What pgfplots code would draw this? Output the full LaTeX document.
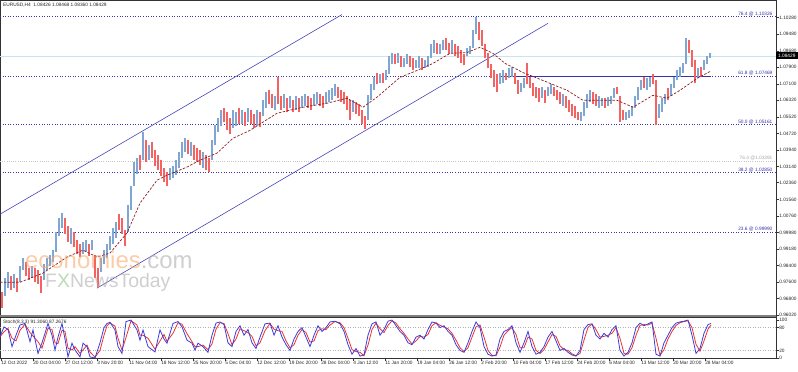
\documentclass[border=0pt]{standalone}
\usepackage{fontspec}
\setmainfont{Liberation Sans}
\usepackage{pgfplots}
\usepackage{pgfplotstable}
\pgfplotsset{compat=1.18}
\definecolor{upc}{RGB}{128,166,212}
\definecolor{dnc}{RGB}{244,98,98}
\definecolor{fib}{RGB}{52,52,168}
\definecolor{chan}{RGB}{70,70,180}
\definecolor{ma}{RGB}{140,30,30}
\definecolor{bid}{RGB}{200,228,238}
\definecolor{stk}{RGB}{60,60,220}
\definecolor{std}{RGB}{235,50,50}
\definecolor{wmo}{RGB}{247,170,110}
\definecolor{wmg}{RGB}{175,175,175}
\definecolor{wmx}{RGB}{140,195,130}
\newcommand{\tf}{\fontsize{4.8}{5.5}\selectfont}

\pgfplotstableread{
x lo hi
5 0.9693 0.9779
8 0.9731 0.9807
14 0.9731 0.9798
20 0.9759 0.9836
23 0.9817 0.9875
32 0.9779 0.9836
44 0.9769 0.9846
47 0.9817 0.9875
50 0.9836 0.9889
53 0.9855 0.9913
56 0.9903 0.9999
59 0.9980 1.0066
62 1.0019 1.0090
71 0.9942 1.0019
83 0.9894 0.9951
86 0.9903 0.9961
92 0.9913 0.9961
101 0.9807 0.9875
104 0.9846 0.9913
107 0.9875 0.9942
110 0.9913 0.9980
113 0.9942 1.0019
116 0.9971 1.0047
128 0.9999 1.0128
131 1.0104 1.0219
134 1.0219 1.0334
137 1.0277 1.0354
143 1.0344 1.0477
149 1.0344 1.0415
170 1.0248 1.0306
173 1.0258 1.0315
176 1.0272 1.0344
179 1.0306 1.0382
182 1.0354 1.0429
185 1.0382 1.0449
191 1.0363 1.0429
203 1.0306 1.0382
212 1.0344 1.0439
215 1.0415 1.0511
218 1.0477 1.0545
221 1.0506 1.0583
233 1.0497 1.0583
236 1.0506 1.0573
242 1.0516 1.0583
248 1.0525 1.0593
257 1.0506 1.0583
263 1.0554 1.0631
266 1.0593 1.0669
275 1.0583 1.0650
284 1.0593 1.0660
290 1.0593 1.0650
296 1.0583 1.0650
302 1.0593 1.0650
305 1.0602 1.0660
314 1.0602 1.0660
317 1.0612 1.0669
326 1.0612 1.0669
329 1.0621 1.0679
332 1.0631 1.0688
335 1.0650 1.0707
353 1.0573 1.0631
368 1.0535 1.0655
371 1.0631 1.0707
374 1.0679 1.0745
380 1.0716 1.0755
386 1.0726 1.0774
389 1.0755 1.0841
392 1.0803 1.0860
398 1.0812 1.0860
404 1.0793 1.0832
407 1.0803 1.0851
416 1.0784 1.0822
419 1.0784 1.0841
425 1.0784 1.0822
428 1.0793 1.0841
431 1.0832 1.0899
434 1.0860 1.0918
440 1.0851 1.0899
443 1.0870 1.0918
452 1.0860 1.0918
467 1.0841 1.0880
470 1.0851 1.0889
473 1.0880 1.0966
476 1.0947 1.1032
500 1.0707 1.0764
503 1.0716 1.0774
509 1.0736 1.0784
512 1.0745 1.0793
521 1.0669 1.0716
524 1.0688 1.0736
542 1.0641 1.0697
548 1.0650 1.0697
551 1.0660 1.0707
563 1.0602 1.0660
581 1.0530 1.0573
584 1.0554 1.0621
587 1.0593 1.0660
590 1.0621 1.0679
599 1.0593 1.0650
602 1.0602 1.0641
608 1.0602 1.0646
611 1.0612 1.0650
614 1.0641 1.0688
626 1.0535 1.0573
629 1.0545 1.0583
632 1.0554 1.0602
635 1.0593 1.0650
638 1.0631 1.0697
641 1.0679 1.0726
647 1.0679 1.0736
650 1.0697 1.0745
659 1.0545 1.0612
662 1.0573 1.0641
665 1.0612 1.0660
671 1.0650 1.0707
674 1.0688 1.0745
677 1.0726 1.0774
680 1.0745 1.0793
683 1.0764 1.0812
686 1.0803 1.0928
698 1.0736 1.0784
704 1.0774 1.0822
707 1.0803 1.0841
710 1.0832 1.0860
}\upbars

\pgfplotstableread{
x lo hi
2 0.9636 0.9712
11 0.9722 0.9788
17 0.9712 0.9779
26 0.9788 0.9855
29 0.9769 0.9827
35 0.9759 0.9827
38 0.9750 0.9817
41 0.9708 0.9788
65 0.9990 1.0066
68 0.9951 1.0028
74 0.9928 0.9999
77 0.9894 0.9961
80 0.9880 0.9942
89 0.9884 0.9942
95 0.9779 0.9889
98 0.9731 0.9827
119 1.0009 1.0085
122 0.9990 1.0066
125 0.9932 1.0009
140 1.0296 1.0368
146 1.0334 1.0439
152 1.0354 1.0429
155 1.0315 1.0392
158 1.0296 1.0368
161 1.0267 1.0344
164 1.0238 1.0306
167 1.0219 1.0286
188 1.0373 1.0439
194 1.0344 1.0415
197 1.0334 1.0401
200 1.0320 1.0392
206 1.0296 1.0368
209 1.0286 1.0354
224 1.0525 1.0593
227 1.0487 1.0573
230 1.0468 1.0545
239 1.0516 1.0593
245 1.0506 1.0573
251 1.0516 1.0583
254 1.0497 1.0564
260 1.0502 1.0573
269 1.0612 1.0679
272 1.0593 1.0660
278 1.0612 1.0741
281 1.0583 1.0650
287 1.0573 1.0641
293 1.0573 1.0631
299 1.0573 1.0641
308 1.0593 1.0650
311 1.0583 1.0641
320 1.0602 1.0660
323 1.0593 1.0650
338 1.0641 1.0697
341 1.0621 1.0679
344 1.0612 1.0669
347 1.0583 1.0650
350 1.0535 1.0631
356 1.0564 1.0621
359 1.0554 1.0612
362 1.0516 1.0583
365 1.0492 1.0554
377 1.0707 1.0764
383 1.0716 1.0764
395 1.0803 1.0851
401 1.0793 1.0841
410 1.0793 1.0841
413 1.0774 1.0832
422 1.0774 1.0832
437 1.0851 1.0908
446 1.0870 1.0928
449 1.0851 1.0908
455 1.0841 1.0899
458 1.0832 1.0889
461 1.0812 1.0870
464 1.0798 1.0851
479 1.0918 1.1004
482 1.0889 1.0966
485 1.0832 1.0899
488 1.0784 1.0860
491 1.0736 1.0803
494 1.0697 1.0774
497 1.0669 1.0755
506 1.0726 1.0764
515 1.0707 1.0764
518 1.0660 1.0726
527 1.0707 1.0808
530 1.0688 1.0745
533 1.0650 1.0716
536 1.0641 1.0697
539 1.0621 1.0688
545 1.0617 1.0679
554 1.0650 1.0697
557 1.0631 1.0679
560 1.0612 1.0669
566 1.0593 1.0650
569 1.0573 1.0631
572 1.0554 1.0612
575 1.0545 1.0602
578 1.0535 1.0573
593 1.0612 1.0669
596 1.0602 1.0660
605 1.0593 1.0641
617 1.0660 1.0697
620 1.0525 1.0650
623 1.0535 1.0583
644 1.0688 1.0745
653 1.0707 1.0755
656 1.0511 1.0726
668 1.0631 1.0688
689 1.0860 1.0918
692 1.0793 1.0870
695 1.0712 1.0822
701 1.0745 1.0793
}\dnbars

\pgfplotstableread{
x k d
0 56 56
4 82 69
8 75 78
12 30 52
16 60 45
20 87 73
25 91 89
30 43 67
33 74 58
38 12 43
42 40 26
45 65 52
48 91 78
52 60 75
55 21 40
58 55 38
62 91 73
65 50 70
68 3 26
72 39 21
75 21 30
80 3 12
83 39 21
87 30 34
90 3 16
95 0 2
100 40 20
104 80 60
107 91 85
110 94 92
115 74 84
118 30 52
122 12 21
126 96 54
131 100 98
137 74 87
140 47 60
143 74 60
148 30 52
155 16 23
160 74 45
164 50 62
167 39 44
173 91 65
178 96 93
182 82 89
187 47 64
192 39 43
195 21 30
198 39 30
203 30 34
208 15 22
212 60 37
216 92 76
220 95 93
224 88 91
228 40 64
232 30 35
236 70 50
240 85 77
244 60 72
248 75 67
252 40 57
256 25 32
260 55 40
265 90 72
270 92 91
274 60 76
278 85 72
282 55 70
286 35 45
290 20 27
294 50 35
298 70 60
302 80 75
306 55 67
310 30 42
314 60 45
318 85 72
322 70 77
326 80 75
330 95 87
335 97 96
340 90 93
344 70 80
348 35 52
352 10 22
356 25 17
360 5 15
364 8 6
368 60 34
372 90 75
376 95 92
380 60 77
384 75 67
388 97 86
392 100 98
396 85 92
400 70 77
404 60 65
408 40 50
412 35 37
416 55 45
420 60 57
424 50 55
428 75 62
432 95 85
436 92 93
440 80 86
444 85 82
448 70 77
452 60 65
456 35 47
460 20 27
464 15 17
468 40 27
472 70 55
476 95 82
480 80 87
484 30 55
488 10 20
492 5 7
496 8 6
500 50 29
504 70 60
508 75 72
512 85 80
516 40 62
520 15 27
524 40 27
528 70 55
532 30 50
536 10 20
540 15 12
544 30 22
548 55 42
552 70 62
556 45 57
560 20 32
564 25 22
568 15 20
572 8 11
576 5 6
580 20 12
584 75 47
588 88 81
592 90 89
596 60 75
600 50 55
604 65 57
608 55 60
612 75 65
616 85 80
620 20 52
624 5 12
628 15 10
632 40 27
636 80 60
640 92 86
644 85 88
648 90 87
652 95 92
656 10 52
660 5 7
664 40 22
668 60 50
672 80 70
676 92 86
680 95 93
684 97 96
688 100 98
692 60 80
696 12 36
700 25 18
704 65 45
708 88 76
711 91 87
}\stoch

\begin{document}
\begin{tikzpicture}[x=1bp,y=1bp]
\useasboundingbox (0bp,0bp) rectangle (798bp,-372bp);
\begin{axis}[
  at={(0bp,-0.5bp)}, anchor=north west, scale only axis,
  width=776bp, height=315.5bp,
  xmin=0, xmax=776, ymin=0.95973, ymax=1.11093,
  axis line style={black!80, line width=0.6bp},
  xtick=\empty,
  ytick={1.10280,1.09480,1.08680,1.07900,1.07100,1.06320,1.05520,1.04720,1.03940,1.03140,1.02360,1.01560,1.00760,0.99980,0.99180,0.98400,0.97600,0.96800,0.96020},
  yticklabels={1.10280,1.09480,1.08680,1.07900,1.07100,1.06320,1.05520,1.04720,1.03940,1.03140,1.02360,1.01560,1.00760,0.99980,0.99180,0.98400,0.97600,0.96800,0.96020},
  ytick pos=right, yticklabel pos=right, tick align=outside,
  major tick length=2.5bp,
  ytick style={black!80, line width=0.5bp},
  yticklabel style={font=\tf, inner sep=0.6bp, text=black!85},
  clip mode=individual,
]
% bid line
\addplot[bid, line width=0.8bp] coordinates {(0,1.08429)(776,1.08429)};
% fib lines
\addplot[fib, line width=0.7bp, dash pattern=on 1bp off 1.6bp] coordinates {(0,1.10326)(776,1.10326)};
\addplot[fib, line width=0.7bp, dash pattern=on 1bp off 1.6bp] coordinates {(0,1.07469)(776,1.07469)};
\addplot[fib, line width=0.7bp, dash pattern=on 1bp off 1.6bp] coordinates {(0,1.05161)(776,1.05161)};
\addplot[black!22, line width=0.9bp, dash pattern=on 1bp off 1.2bp] coordinates {(0,1.03391)(776,1.03391)};
\addplot[fib, line width=0.7bp, dash pattern=on 1bp off 1.6bp] coordinates {(0,1.02850)(776,1.02850)};
\addplot[fib, line width=0.7bp, dash pattern=on 1bp off 1.6bp] coordinates {(0,0.99990)(776,0.99990)};
% horizontal solid level
\addplot[fib, line width=0.9bp] coordinates {(500,1.07469)(711,1.07469)};
% channel
\addplot[chan, line width=0.6bp] coordinates {(0,1.0085)(342,1.1042)};
\addplot[chan, line width=0.6bp] coordinates {(97,0.9731)(548,1.1000)};
% candles
\addplot[draw=none, mark=none, error bars/.cd, y dir=plus, y explicit, error mark=none,
  error bar style={draw=upc, line width=1.6bp}]
  table[x=x, y=lo, y error expr=\thisrow{hi}-\thisrow{lo}] {\upbars};
\addplot[draw=none, mark=none, error bars/.cd, y dir=plus, y explicit, error mark=none,
  error bar style={draw=dnc, line width=1.6bp}]
  table[x=x, y=lo, y error expr=\thisrow{hi}-\thisrow{lo}] {\dnbars};
% moving average
\addplot[ma, line width=0.7bp, dash pattern=on 2.5bp off 1.5bp] coordinates {
(0,0.9759)(20,0.9759)(43,0.9803)(67,0.9880)(83,0.9913)(97,0.9880)(110,0.9899)
(127,0.9995)(140,1.0138)(157,1.0248)(167,1.0272)(187,1.0311)(200,1.0344)
(217,1.0378)(233,1.0449)(250,1.0487)(277,1.0569)(303,1.0598)(327,1.0617)
(347,1.0641)(363,1.0598)(377,1.0646)(400,1.0741)(417,1.0774)(433,1.0808)
(450,1.0856)(467,1.0860)(480,1.0885)(493,1.0856)(505,1.0808)(523,1.0764)
(543,1.0726)(567,1.0679)(583,1.0631)(600,1.0631)(617,1.0631)(633,1.0598)
(653,1.0655)(667,1.0641)(680,1.0679)(697,1.0736)(710,1.0769)};
% fib labels
\node[anchor=south east, font=\tf, text=fib, inner sep=0.4bp] at (axis cs:773,1.10326) {76.4 @ 1.10326};
\node[anchor=south east, font=\tf, text=fib, inner sep=0.4bp] at (axis cs:773,1.07469) {61.8 @ 1.07469};
\node[anchor=south east, font=\tf, text=fib, inner sep=0.4bp] at (axis cs:773,1.05161) {50.0 @ 1.05161};
\node[anchor=south east, font=\tf, text=black!35, inner sep=0.4bp] at (axis cs:773,1.03391) {76.4 @1.03391};
\node[anchor=south east, font=\tf, text=fib, inner sep=0.4bp] at (axis cs:773,1.02850) {38.2 @ 1.02850};
\node[anchor=south east, font=\tf, text=fib, inner sep=0.4bp] at (axis cs:773,0.99990) {23.6 @ 0.99990};
\end{axis}

\begin{axis}[
  at={(0bp,-317bp)}, anchor=north west, scale only axis,
  width=776bp, height=41bp,
  xmin=0, xmax=776, ymin=0, ymax=108,
  axis line style={black!80, line width=0.6bp},
  ytick={0,20,80,100}, yticklabels={0,20,80,100},
  ytick pos=right, yticklabel pos=right, tick align=outside,
  major tick length=2.5bp,
  tick style={black!80, line width=0.5bp},
  yticklabel style={font=\tf, inner sep=0.6bp, text=black!85},
  xtick={1,33,65,97,129,161,193,225,257,289,321,353,385,417,449,481,513,545,577,609,641,673,705},
  xticklabels={12 Oct 2022,20 Oct 04:00,27 Oct 12:00,3 Nov 20:00,11 Nov 04:00,18 Nov 12:00,25 Nov 20:00,5 Dec 04:00,12 Dec 12:00,19 Dec 20:00,28 Dec 04:00,4 Jan 12:00,11 Jan 20:00,19 Jan 04:00,26 Jan 12:00,2 Feb 20:00,10 Feb 04:00,17 Feb 12:00,24 Feb 20:00,6 Mar 04:00,13 Mar 12:00,20 Mar 20:00,28 Mar 04:00},
  xtick pos=bottom,
  xticklabel style={font=\tf, anchor=north west, inner sep=0.6bp, xshift=-0.5bp, text=black!85},
  clip mode=individual,
]
\addplot[black!30, line width=0.6bp, dash pattern=on 1bp off 1.5bp] coordinates {(0,80)(776,80)};
\addplot[black!30, line width=0.6bp, dash pattern=on 1bp off 1.5bp] coordinates {(0,20)(776,20)};
\addplot[std, line width=0.8bp] table[x=x, y=d] {\stoch};
\addplot[stk, line width=0.8bp] table[x=x, y=k] {\stoch};
\end{axis}

% separator
\draw[black!50, line width=2bp] (0bp,-316bp) -- (776bp,-316bp);
% bid box
\fill[black] (776bp,-52.2bp) rectangle (797.5bp,-59.2bp);
\node[text=white, font=\tf, inner sep=0] at (786.8bp,-55.7bp) {1.08429};
% titles
\node[anchor=west, font=\tf, inner sep=0, text=black!85] at (3bp,-5bp) {EURUSD,H4\ \ 1.08426 1.08468 1.08360 1.08429};
\node[anchor=west, font=\tf, inner sep=0, text=black!85] at (3bp,-322bp) {Stoch(8,3,3) 91.3060 87.2676};
% watermark
\node[anchor=base west, inner sep=0, font=\fontsize{24}{24}\selectfont, opacity=0.6] at (25bp,-268bp) {\textcolor{wmo}{economies}\textcolor{wmg}{.com}};
\node[anchor=base west, inner sep=0, font=\fontsize{19.5}{20}\selectfont, opacity=0.6] at (45bp,-287bp) {\textcolor{wmg}{F}\textcolor{wmx}{X}\textcolor{wmg}{NewsToday}};
\end{tikzpicture}
\end{document}
